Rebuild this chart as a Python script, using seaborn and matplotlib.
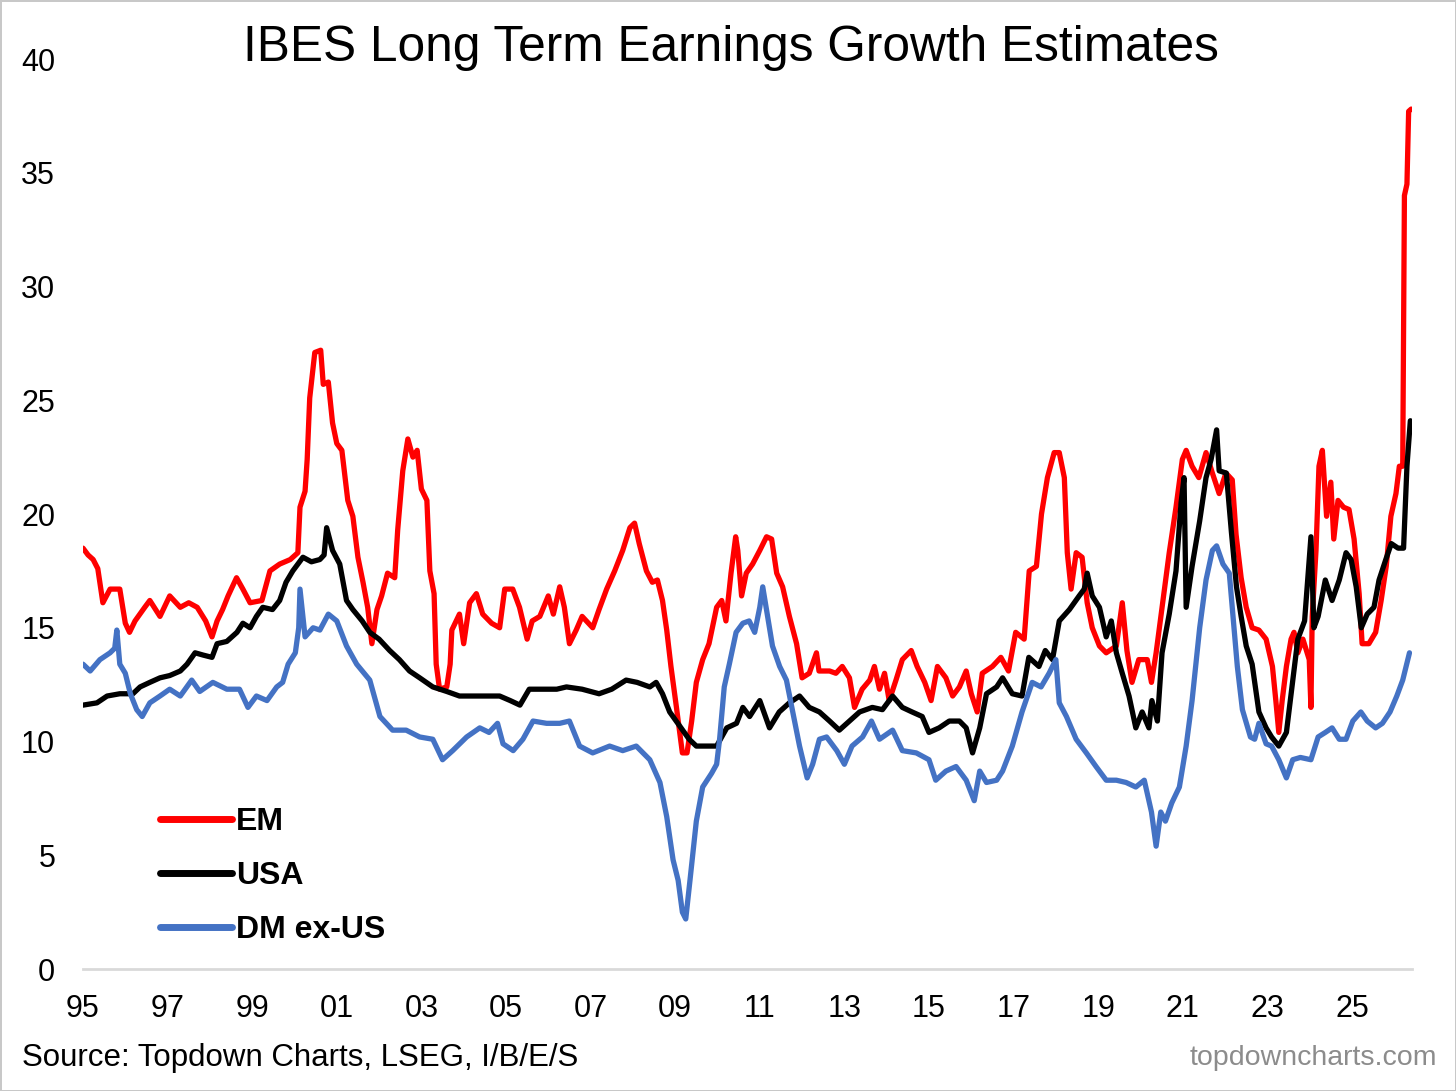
"""IBES long term earnings growth estimates: EM vs USA vs DM ex-US."""

import matplotlib
matplotlib.use("Agg")
import matplotlib.pyplot as plt
import pandas as pd
import seaborn as sns

# --- data (decimal year, % growth) ---
em_years = [
    1995.00, 1995.12, 1995.24, 1995.35, 1995.47, 1995.64, 1995.87, 1996.00, 1996.10, 1996.23,
    1996.46, 1996.58, 1996.82, 1997.05, 1997.30, 1997.50, 1997.70, 1997.90, 1998.05, 1998.17,
    1998.30, 1998.43, 1998.63, 1998.78, 1998.95, 1999.23, 1999.42, 1999.65, 1999.90, 2000.08,
    2000.13, 2000.25, 2000.30, 2000.36, 2000.48, 2000.62, 2000.68, 2000.80, 2000.90, 2001.00,
    2001.12, 2001.26, 2001.38, 2001.50, 2001.62, 2001.73, 2001.83, 2001.95, 2002.06, 2002.20,
    2002.37, 2002.44, 2002.56, 2002.68, 2002.80, 2002.90, 2003.00, 2003.13, 2003.20, 2003.30,
    2003.35, 2003.43, 2003.60, 2003.68, 2003.72, 2003.90, 2004.00, 2004.14, 2004.30, 2004.45,
    2004.66, 2004.85, 2004.97, 2005.16, 2005.32, 2005.50, 2005.62, 2005.80, 2006.00, 2006.12,
    2006.27, 2006.38, 2006.50, 2006.66, 2006.80, 2007.05, 2007.20, 2007.38, 2007.57, 2007.76,
    2007.93, 2008.04, 2008.15, 2008.32, 2008.46, 2008.58, 2008.70, 2008.80, 2008.90, 2009.03,
    2009.17, 2009.28, 2009.39, 2009.50, 2009.65, 2009.80, 2009.98, 2010.10, 2010.20, 2010.32,
    2010.43, 2010.48, 2010.57, 2010.68, 2010.83, 2011.00, 2011.16, 2011.28, 2011.40, 2011.54,
    2011.70, 2011.87, 2012.00, 2012.17, 2012.34, 2012.40, 2012.65, 2012.80, 2012.95, 2013.12,
    2013.24, 2013.42, 2013.60, 2013.71, 2013.83, 2013.95, 2014.06, 2014.22, 2014.37, 2014.58,
    2014.72, 2014.90, 2015.05, 2015.20, 2015.40, 2015.56, 2015.72, 2015.88, 2016.00, 2016.14,
    2016.26, 2016.50, 2016.70, 2016.88, 2017.05, 2017.25, 2017.37, 2017.54, 2017.66, 2017.80,
    2017.96, 2018.08, 2018.20, 2018.27, 2018.36, 2018.48, 2018.62, 2018.74, 2018.86, 2019.03,
    2019.19, 2019.43, 2019.57, 2019.68, 2019.80, 2019.96, 2020.16, 2020.26, 2020.37, 2020.51,
    2020.68, 2020.84, 2020.99, 2021.08, 2021.22, 2021.38, 2021.55, 2021.70, 2021.86, 2022.02,
    2022.17, 2022.26, 2022.38, 2022.50, 2022.64, 2022.80, 2022.97, 2023.12, 2023.20, 2023.27,
    2023.35, 2023.45, 2023.56, 2023.63, 2023.72, 2023.84, 2023.99, 2024.03, 2024.06, 2024.15,
    2024.22, 2024.30, 2024.40, 2024.50, 2024.57, 2024.67, 2024.80, 2024.93, 2025.05, 2025.17,
    2025.24, 2025.40, 2025.56, 2025.69, 2025.81, 2025.92, 2026.04, 2026.12, 2026.20, 2026.24,
    2026.30, 2026.34, 2026.40,
]
em_values = [
    18.5, 18.2, 18.0, 17.6, 16.1, 16.7, 16.7, 15.2, 14.8, 15.3,
    15.9, 16.2, 15.5, 16.4, 15.9, 16.1, 15.9, 15.3, 14.6, 15.3,
    15.8, 16.4, 17.2, 16.7, 16.1, 16.2, 17.5, 17.8, 18.0, 18.3,
    20.3, 21.0, 22.4, 25.1, 27.1, 27.2, 25.7, 25.8, 24.0, 23.1,
    22.8, 20.6, 19.9, 18.1, 17.0, 15.9, 14.3, 15.8, 16.4, 17.4,
    17.2, 19.3, 21.9, 23.3, 22.5, 22.8, 21.1, 20.6, 17.5, 16.5,
    13.4, 12.3, 12.4, 13.4, 14.9, 15.6, 14.3, 16.1, 16.5, 15.6,
    15.2, 15.0, 16.7, 16.7, 15.9, 14.5, 15.3, 15.5, 16.4, 15.6,
    16.8, 15.9, 14.3, 14.9, 15.5, 15.0, 15.8, 16.7, 17.5, 18.4,
    19.4, 19.6, 18.7, 17.5, 17.0, 17.1, 16.2, 14.9, 13.3, 11.5,
    9.5, 9.5, 10.9, 12.6, 13.6, 14.3, 15.9, 16.2, 15.3, 17.4,
    19.0, 18.4, 16.4, 17.4, 17.8, 18.4, 19.0, 18.9, 17.4, 16.8,
    15.5, 14.3, 12.8, 13.0, 13.9, 13.1, 13.1, 13.0, 13.3, 12.8,
    11.5, 12.3, 12.7, 13.3, 12.3, 13.0, 11.8, 12.7, 13.6, 14.0,
    13.3, 12.6, 11.8, 13.3, 12.8, 12.0, 12.4, 13.1, 12.1, 11.3,
    13.0, 13.3, 13.7, 13.1, 14.8, 14.5, 17.5, 17.7, 20.0, 21.6,
    22.7, 22.7, 21.6, 18.3, 16.7, 18.3, 18.1, 16.1, 15.0, 14.2,
    13.9, 14.2, 16.1, 14.0, 12.6, 13.6, 13.6, 12.6, 13.9, 15.9,
    18.3, 20.3, 22.4, 22.8, 22.1, 21.6, 22.7, 21.8, 20.9, 21.8,
    21.5, 19.1, 17.2, 15.9, 15.0, 14.9, 14.5, 13.3, 11.8, 10.4,
    11.8, 13.3, 14.5, 14.8, 13.9, 14.5, 13.6, 11.5, 15.5, 18.4,
    22.1, 22.8, 19.9, 21.4, 18.9, 20.6, 20.3, 20.2, 18.9, 16.5,
    14.3, 14.3, 14.8, 16.2, 17.7, 19.9, 20.9, 22.1, 22.1, 34.0,
    34.5, 37.7, 37.8,
]

usa_years = [
    1995.00, 1995.33, 1995.57, 1995.87, 1996.18, 1996.35, 1996.58, 1996.82, 1997.05, 1997.30,
    1997.46, 1997.65, 1997.84, 1998.05, 1998.17, 1998.40, 1998.64, 1998.78, 1998.95, 1999.10,
    1999.25, 1999.48, 1999.65, 1999.80, 1999.96, 2000.20, 2000.40, 2000.60, 2000.70, 2000.76,
    2000.90, 2001.07, 2001.23, 2001.38, 2001.60, 2001.78, 2002.00, 2002.25, 2002.48, 2002.72,
    2002.96, 2003.27, 2003.60, 2003.90, 2004.20, 2004.54, 2004.85, 2005.10, 2005.33, 2005.55,
    2005.80, 2006.20, 2006.43, 2006.80, 2007.20, 2007.50, 2007.84, 2008.10, 2008.40, 2008.55,
    2008.70, 2008.87, 2009.10, 2009.33, 2009.50, 2009.75, 2009.98, 2010.22, 2010.45, 2010.60,
    2010.76, 2011.00, 2011.23, 2011.46, 2011.70, 2011.94, 2012.17, 2012.41, 2012.65, 2012.88,
    2013.12, 2013.36, 2013.66, 2013.90, 2014.14, 2014.37, 2014.60, 2014.84, 2015.00, 2015.24,
    2015.48, 2015.72, 2015.88, 2016.03, 2016.20, 2016.36, 2016.60, 2016.74, 2016.97, 2017.20,
    2017.36, 2017.60, 2017.75, 2017.92, 2018.08, 2018.32, 2018.55, 2018.67, 2018.74, 2018.86,
    2019.03, 2019.19, 2019.31, 2019.43, 2019.57, 2019.73, 2019.89, 2020.04, 2020.20, 2020.27,
    2020.40, 2020.51, 2020.68, 2020.84, 2020.96, 2021.03, 2021.08, 2021.22, 2021.40, 2021.55,
    2021.67, 2021.80, 2021.86, 2022.03, 2022.15, 2022.27, 2022.38, 2022.50, 2022.64, 2022.80,
    2022.97, 2023.10, 2023.27, 2023.45, 2023.60, 2023.72, 2023.88, 2024.03, 2024.10, 2024.20,
    2024.37, 2024.53, 2024.70, 2024.86, 2024.98, 2025.10, 2025.22, 2025.36, 2025.52, 2025.64,
    2025.80, 2025.93, 2026.09, 2026.22, 2026.30, 2026.38,
]
usa_values = [
    11.6, 11.7, 12.0, 12.1, 12.1, 12.4, 12.6, 12.8, 12.9, 13.1,
    13.4, 13.9, 13.8, 13.7, 14.3, 14.4, 14.8, 15.2, 15.0, 15.5,
    15.9, 15.8, 16.2, 17.0, 17.5, 18.1, 17.9, 18.0, 18.2, 19.4,
    18.4, 17.8, 16.2, 15.8, 15.3, 14.8, 14.5, 14.0, 13.6, 13.1,
    12.8, 12.4, 12.2, 12.0, 12.0, 12.0, 12.0, 11.8, 11.6, 12.3,
    12.3, 12.3, 12.4, 12.3, 12.1, 12.3, 12.7, 12.6, 12.4, 12.6,
    12.1, 11.3, 10.7, 10.1, 9.8, 9.8, 9.8, 10.6, 10.8, 11.5,
    11.1, 11.8, 10.6, 11.3, 11.7, 12.0, 11.5, 11.3, 10.9, 10.5,
    10.9, 11.3, 11.5, 11.4, 12.0, 11.5, 11.3, 11.1, 10.4, 10.6,
    10.9, 10.9, 10.6, 9.5, 10.6, 12.1, 12.4, 12.8, 12.1, 12.0,
    13.7, 13.3, 14.0, 13.6, 15.3, 15.8, 16.4, 16.7, 17.4, 16.4,
    15.9, 14.6, 15.3, 13.9, 13.0, 12.0, 10.6, 11.3, 10.6, 11.8,
    10.9, 13.9, 15.6, 17.5, 20.5, 21.6, 15.9, 17.7, 19.7, 21.6,
    22.4, 23.7, 21.9, 21.8, 19.2, 16.8, 15.5, 14.2, 13.4, 11.3,
    10.6, 10.2, 9.8, 10.4, 12.7, 14.5, 15.3, 19.0, 15.0, 15.5,
    17.1, 16.2, 17.1, 18.3, 18.0, 16.8, 15.0, 15.6, 15.9, 17.1,
    18.0, 18.7, 18.5, 18.5, 22.1, 24.1,
]

dm_years = [
    1995.00, 1995.17, 1995.40, 1995.64, 1995.75, 1995.80, 1995.87, 1996.00, 1996.12, 1996.27,
    1996.40, 1996.58, 1996.82, 1997.05, 1997.30, 1997.57, 1997.76, 1998.07, 1998.40, 1998.70,
    1998.90, 1999.10, 1999.35, 1999.58, 1999.72, 1999.85, 2000.02, 2000.10, 2000.13, 2000.25,
    2000.44, 2000.60, 2000.80, 2001.00, 2001.23, 2001.47, 2001.78, 2002.02, 2002.32, 2002.64,
    2002.96, 2003.27, 2003.50, 2003.74, 2004.07, 2004.38, 2004.60, 2004.80, 2004.93, 2005.17,
    2005.40, 2005.64, 2005.96, 2006.27, 2006.50, 2006.74, 2007.05, 2007.45, 2007.76, 2008.08,
    2008.40, 2008.64, 2008.80, 2008.95, 2009.07, 2009.17, 2009.25, 2009.35, 2009.50, 2009.65,
    2009.86, 2009.98, 2010.05, 2010.16, 2010.28, 2010.44, 2010.60, 2010.75, 2010.88, 2011.00,
    2011.07, 2011.15, 2011.30, 2011.47, 2011.63, 2011.78, 2011.94, 2012.12, 2012.25, 2012.41,
    2012.58, 2012.82, 2013.00, 2013.18, 2013.43, 2013.64, 2013.83, 2014.14, 2014.37, 2014.70,
    2015.00, 2015.16, 2015.40, 2015.64, 2015.88, 2016.07, 2016.20, 2016.36, 2016.60, 2016.74,
    2016.97, 2017.20, 2017.44, 2017.65, 2017.84, 2018.00, 2018.08, 2018.25, 2018.48, 2018.72,
    2018.95, 2019.19, 2019.43, 2019.66, 2019.89, 2020.09, 2020.26, 2020.37, 2020.48, 2020.59,
    2020.74, 2020.92, 2021.08, 2021.22, 2021.40, 2021.55, 2021.70, 2021.80, 2021.95, 2022.10,
    2022.17, 2022.29, 2022.41, 2022.60, 2022.70, 2022.80, 2022.97, 2023.10, 2023.27, 2023.45,
    2023.60, 2023.78, 2024.03, 2024.20, 2024.37, 2024.53, 2024.70, 2024.86, 2025.02, 2025.21,
    2025.36, 2025.56, 2025.72, 2025.90, 2026.06, 2026.20, 2026.36,
]
dm_values = [
    13.4, 13.1, 13.6, 13.9, 14.1, 14.9, 13.4, 13.0, 12.1, 11.4,
    11.1, 11.7, 12.0, 12.3, 12.0, 12.7, 12.2, 12.6, 12.3, 12.3,
    11.5, 12.0, 11.8, 12.4, 12.6, 13.4, 13.9, 15.0, 16.7, 14.6,
    15.0, 14.9, 15.6, 15.3, 14.2, 13.4, 12.7, 11.1, 10.5, 10.5,
    10.2, 10.1, 9.2, 9.6, 10.2, 10.6, 10.4, 10.8, 9.9, 9.6,
    10.1, 10.9, 10.8, 10.8, 10.9, 9.8, 9.5, 9.8, 9.6, 9.8,
    9.2, 8.2, 6.7, 4.8, 3.9, 2.5, 2.2, 3.9, 6.5, 8.0,
    8.6, 9.0, 10.1, 12.4, 13.4, 14.8, 15.2, 15.3, 14.8, 15.9,
    16.8, 15.9, 14.2, 13.3, 12.7, 11.3, 9.8, 8.4, 9.0, 10.1,
    10.2, 9.6, 9.0, 9.8, 10.2, 10.9, 10.1, 10.5, 9.6, 9.5,
    9.2, 8.3, 8.7, 8.9, 8.3, 7.4, 8.7, 8.2, 8.3, 8.7,
    9.8, 11.3, 12.6, 12.4, 13.0, 13.6, 11.7, 11.1, 10.1, 9.5,
    8.9, 8.3, 8.3, 8.2, 8.0, 8.3, 6.9, 5.4, 6.9, 6.5,
    7.3, 8.0, 9.8, 11.8, 15.0, 17.1, 18.4, 18.6, 17.8, 17.4,
    15.9, 13.3, 11.4, 10.2, 10.1, 10.8, 9.9, 9.8, 9.2, 8.4,
    9.2, 9.3, 9.2, 10.2, 10.4, 10.6, 10.1, 10.1, 10.9, 11.3,
    10.9, 10.6, 10.8, 11.3, 12.0, 12.7, 13.9,
]

series_names = ["EM", "USA", "DM ex-US"]
series_colors = ["#FF0000", "#000000", "#4472C4"]
x_tick_years = list(range(1995, 2026, 2))
y_ticks = [0, 5, 10, 15, 20, 25, 30, 35, 40]

df = pd.concat(
    [
        pd.DataFrame({"year": em_years, "value": em_values, "series": "EM"}),
        pd.DataFrame({"year": usa_years, "value": usa_values, "series": "USA"}),
        pd.DataFrame({"year": dm_years, "value": dm_values, "series": "DM ex-US"}),
    ],
    ignore_index=True,
)

sns.set_theme(style="white")
plt.rcParams["font.family"] = ["Liberation Sans", "DejaVu Sans"]
plt.rcParams["text.color"] = "black"

fig = plt.figure(figsize=(14.56, 10.91), dpi=100,
                 edgecolor="#c8c8c8", linewidth=2)
ax = fig.add_axes([0.057, 0.1118, 0.9128, 0.8341])

sns.lineplot(
    data=df,
    x="year",
    y="value",
    hue="series",
    hue_order=series_names,
    palette=dict(zip(series_names, series_colors)),
    estimator=None,
    sort=False,
    linewidth=3.8,
    legend=False,
    ax=ax,
)

ax.set_xlim(1995.0, 2026.42)
ax.set_ylim(0, 40)
ax.set_xticks(x_tick_years)
ax.set_xticklabels([f"{y % 100:02d}" for y in x_tick_years])
ax.set_yticks(y_ticks)
ax.set_xlabel("")
ax.set_ylabel("")
ax.tick_params(axis="both", length=0, labelsize=22, colors="black")
ax.tick_params(axis="y", pad=20)
ax.tick_params(axis="x", pad=18)
for side in ["top", "right", "left"]:
    ax.spines[side].set_visible(False)
ax.spines["bottom"].set_color("#d9d9d9")
ax.spines["bottom"].set_linewidth(2)
ax.grid(False)

leg = ax.legend(
    handles=ax.get_lines()[:3],
    labels=series_names,
    loc="upper left",
    bbox_to_anchor=(0.099, 0.2745),
    bbox_transform=fig.transFigure,
    frameon=False,
    prop={"weight": "bold", "size": 23},
    handlelength=2.25,
    handletextpad=0.12,
    labelspacing=0.74,
    borderpad=0,
)
for line in leg.get_lines():
    line.set_linewidth(5)

fig.text(0.502, 0.956, "IBES Long Term Earnings Growth Estimates",
         ha="center", va="center", fontsize=35.7)
fig.text(0.015, 0.0305, "Source: Topdown Charts, LSEG, I/B/E/S",
         ha="left", va="center", fontsize=22.5)
fig.text(0.987, 0.0305, "topdowncharts.com",
         ha="right", va="center", fontsize=20.5, color="#8c8c8c")

fig.savefig("out.png", dpi=100, facecolor="white", edgecolor="#c8c8c8")
